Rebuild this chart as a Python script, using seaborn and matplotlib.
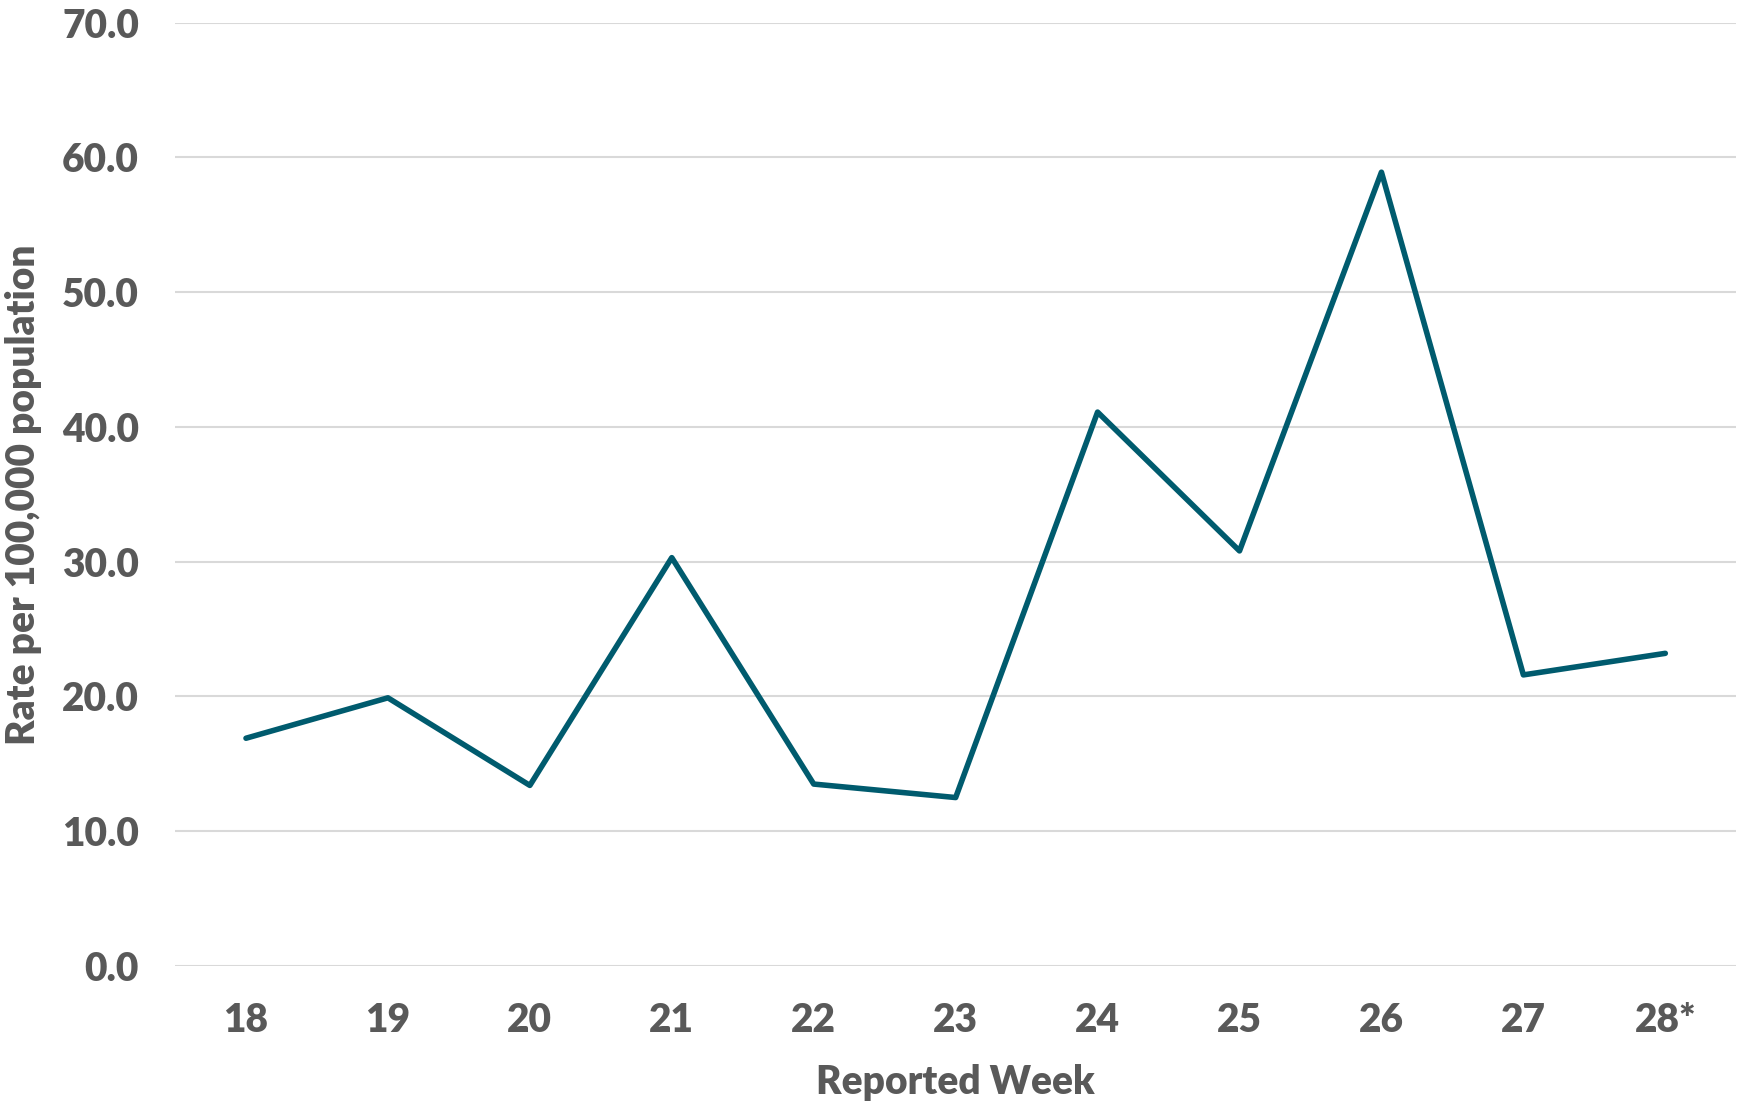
import matplotlib
matplotlib.use("Agg")
import matplotlib.pyplot as plt
import seaborn as sns
import pandas as pd

weeks = ["18", "19", "20", "21", "22", "23", "24", "25", "26", "27", "28*"]
rates = [16.9, 19.9, 13.4, 30.3, 13.5, 12.5, 41.1, 30.8, 58.9, 21.6, 23.2]
y_ticks = [0, 10, 20, 30, 40, 50, 60, 70]

df = pd.DataFrame({"week": weeks, "rate": rates})

sns.set_theme(style="white")
plt.rcParams["font.family"] = ["Lato", "DejaVu Sans"]

text_col = "#595959"
line_col = "#005b6e"
fs = 28

fig = plt.figure(figsize=(17.45, 11.02), dpi=100)
ax = fig.add_axes([0.1003, 0.1234, 0.8947, 0.8561])

sns.lineplot(data=df, x="week", y="rate", sort=False, color=line_col,
             linewidth=4, ax=ax)

ax.set_xlim(-0.5, len(weeks) - 0.5)
ax.set_ylim(0, 70)
ax.set_yticks(y_ticks)
ax.set_yticklabels([f"{v:.1f}" for v in y_ticks])
ax.yaxis.grid(True, color="#d9d9d9", linewidth=1.5)
ax.set_axisbelow(True)
for s in ax.spines.values():
    s.set_visible(False)
ax.tick_params(axis="both", length=0, labelsize=fs, labelcolor=text_col)
ax.tick_params(axis="y", pad=26)
ax.tick_params(axis="x", pad=26)
for lab in ax.get_xticklabels() + ax.get_yticklabels():
    lab.set_fontweight("heavy")

ax.set_xlabel("Reported Week", fontsize=fs, fontweight="heavy", color=text_col, labelpad=18)
ax.set_ylabel("Rate per 100,000 population", fontsize=fs, fontweight="heavy", color=text_col)
ax.yaxis.set_label_coords(-0.085, 0.5)

fig.savefig("out.png", dpi=100)
